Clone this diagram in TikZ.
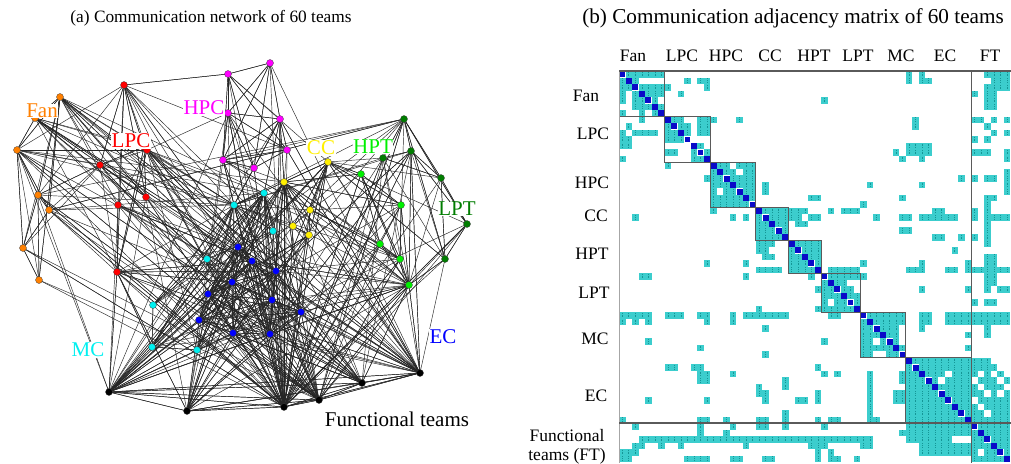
\documentclass[tikz,border=0pt]{standalone}
\usepackage{fontspec}
\setmainfont{Liberation Serif}
\definecolor{fanc}{RGB}{255,128,0}
\definecolor{lpcc}{RGB}{255,0,0}
\definecolor{hpcc}{RGB}{255,0,255}
\definecolor{ccc}{RGB}{255,240,0}
\definecolor{hptc}{RGB}{0,240,0}
\definecolor{lptc}{RGB}{0,125,0}
\definecolor{mcc}{RGB}{0,240,240}
\definecolor{ecc}{RGB}{0,0,255}
\definecolor{ftc}{RGB}{0,0,0}
\definecolor{cellc}{RGB}{60,205,205}
\definecolor{celldark}{RGB}{20,150,150}
\definecolor{diagc}{RGB}{10,10,200}
\definecolor{gridline}{RGB}{90,90,90}
\begin{document}
\begin{tikzpicture}[x=1pt,y=-1pt,
  team/.style={circle,inner sep=0pt,minimum size=7pt,draw=black!75,line width=0.3pt},
  link/.style={line width=0.45pt,black!85},
  grouplabel/.style={font=\fontsize{21}{24}\selectfont,fill=white,inner sep=0.5pt},
  caption/.style={font=\fontsize{17.3}{20}\selectfont,inner sep=0pt},
  axislabel/.style={font=\fontsize{17.5}{20}\selectfont,inner sep=0pt},
  cell/.style={fill=cellc},
  celltex/.style={celldark,line width=0.6pt,dash pattern=on 1pt off 0.7pt},
  blockbox/.style={draw=gridline,line width=0.9pt}]
\useasboundingbox (0,0) rectangle (1011,463);
\fill[white] (0,0) rectangle (1011,463);

% adjacency lists: row / columns with a link (diagonal drawn separately)
\def\mrows{
0/{1,2,3,4,5,6,44,46,56,57,58,59},
1/{0,2,10,12,13,44,46,47,57,58,59},
2/{0,1,3,4,5,6,7,13,56,57,58,59},
3/{0,2,4,5,6,9,54,56,57},
4/{0,2,3,5,31,56,57},
5/{2,3,4,6,56,57},
6/{0,3,5},
7/{3,8,9,12,13,14,18,45,54,55,57,59},
8/{1,7,9,10,12,13,45,56},
9/{0,2,3,4,5,7,8,10,12,13,57,59},
10/{0,1,7,8,9,54,56},
11/{0,1,12,44,45,46,47},
12/{7,8,11,13,42,44,45,46,47,54,55,56,59},
13/{0,11,12,43,46,59},
14/{7,15,16,18,19,20},
15/{14,16,17,19,20,59},
16/{13,14,15,17,18,19,20,52,54,56,57,59},
17/{14,15,16,18,19,20,22,38,46,59},
18/{14,16,17,19,20,22,59},
19/{14,15,16,17,18,20,29,30,43,56,57},
20/{14,15,16,17,18,19,37,56},
21/{14,22,23,24,25,26,27,28,32,34,35,36,48,49,54,56},
22/{2,17,19,21,23,24,25,26,27,29,30,39,43,44,46,47,48,49,50,51,54,56,57,58,59},
23/{21,22,24,25,27,28,56},
24/{21,22,23,25,43,44,56},
25/{21,22,23,24,48,49,52,54,56},
26/{21,22,23,27,28,29,30,56},
27/{21,22,26,28,29,30,51},
28/{22,23,26,27,29,30,56,57},
29/{13,19,26,27,28,30,37,46,53,56,57},
30/{21,22,23,24,26,27,28,29,32,33,34,35,36,44,45,46,50,51,53,54,55,56,57,58,59},
31/{3,4,19,29,32,33,34,35,36,37,56,57},
32/{31,33,34,56,57},
33/{30,31,32,34,35,46,53,56,58,59},
34/{31,32,33,35,36},
35/{31,33,34,36,54,56,57},
36/{21,30,31,32,33,34,35},
37/{0,1,2,3,4,7,8,9,12,13,17,19,20,21,22,23,24,25,32,33,38,39,40,41,42,43,46,47,50,51,52,53,54,55,56,57,58,59},
38/{0,2,4,13,17,37,39,40,41,42,43,46,47,50,51,52,53,54,55,56,57,58,59},
39/{22,37,38,40,41,42,46,56},
40/{37,38,39,41,42,53,56},
41/{4,31,37,38,40,42},
42/{12,37,38,39,40,41,43,53},
43/{22,37,38,41,42},
44/{45,46,47,48,49,50,51,52,53,54,55,56},
45/{7,8,11,12,30,44,46,47,48,49,50,51,52,53,54,55,56,57},
46/{12,13,17,31,33,38,43,44,45,47,48,49,51,52,53,54,56,58},
47/{12,13,25,38,43,44,45,46,48,50,51,52,53,55,56,57,59},
48/{21,25,38,44,45,46,47,49,50,51,52,53,54,56,57,58},
49/{21,22,30,38,42,43,44,45,46,47,48,50,51,52,53,54,55,57,59},
50/{4,13,22,27,28,30,38,42,43,44,45,46,47,48,49,51,52,53,55,56,57,58,59},
51/{38,44,45,46,47,48,49,50,52,53,54,56,57,58,59},
52/{25,38,44,45,46,47,48,49,50,51,53,54,55,57,58,59},
53/{0,12,13,16,21,22,25,30,32,33,38,39,44,45,46,47,48,49,50,51,52,54,55,56,57,58,59},
54/{2,12,17,21,22,25,31,44,45,46,47,48,49,50,51,52,53,55,56,57,58,59},
55/{12,16,43,44,45,46,47,48,49,50,51,52,53,54,56,57,58,59},
56/{3,4,5,6,7,8,9,10,11,12,13,14,15,16,17,18,19,20,21,22,23,24,25,26,27,28,29,30,31,32,33,34,35,36,37,38,44,45,46,47,48,49,50,54,55,57,58,59},
57/{2,3,6,9,19,29,30,31,37,38,46,47,48,49,50,51,52,53,54,55,56,58,59},
58/{0,1,2,30,32,46,47,48,49,50,51,52,53,54,56,57,59},
59/{0,1,10,11,12,13,17,18,22,23,30,32,33,36,54,55,56,57,58}}

% ---------- (a) network ----------
\node[caption] (capa) at (211,18) {(a) Communication network of 60 teams};

\foreach \i/\x/\y/\c in {
 0/60/97/fanc, 1/35/118/fanc, 2/17/150/fanc, 3/38/195/fanc, 4/49/210/fanc, 5/23/248/fanc, 6/39/280/fanc,
 7/124/85/lpcc, 8/144/147/lpcc, 9/100/165/lpcc, 10/146/197/lpcc, 11/118/205/lpcc, 12/117/272/lpcc, 13/147/150/lpcc,
 14/228/74/hpcc, 15/270/63/hpcc, 16/228/113/hpcc, 17/280/119/hpcc, 18/287/150/hpcc, 19/223/160/hpcc, 20/254/168/hpcc,
 21/328/162/ccc, 22/284/182/ccc, 23/310/210/ccc, 24/293/226/ccc, 25/309/235/ccc,
 26/361/174/hptc, 27/401/205/hptc, 28/380/244/hptc, 29/400/259/hptc, 30/409/285/hptc,
 31/404/119/lptc, 32/383/158/lptc, 33/411/151/lptc, 34/441/178/lptc, 35/467/224/lptc, 36/445/259/lptc,
 37/234/205/mcc, 38/264/193/mcc, 39/273/231/mcc, 40/207/259/mcc, 41/153/305/mcc, 42/152/347/mcc, 43/197/350/mcc,
 44/238/247/ecc, 45/252/261/ecc, 46/276/271/ecc, 47/232/282/ecc, 48/208/294/ecc, 49/272/300/ecc, 50/301/312/ecc, 51/199/320/ecc, 52/233/333/ecc, 53/270/334/ecc,
 54/109/392/ftc, 55/187/411/ftc, 56/284/407/ftc, 57/319/400/ftc, 58/362/383/ftc, 59/420/373/ftc}
  \coordinate (n\i) at (\x,\y);

\foreach \r/\cols in \mrows {
  \foreach \c in \cols { \draw[link] (n\r) -- (n\c); }
}

\foreach \i/\c in {0/fanc,1/fanc,2/fanc,3/fanc,4/fanc,5/fanc,6/fanc,
 7/lpcc,8/lpcc,9/lpcc,10/lpcc,11/lpcc,12/lpcc,13/lpcc,
 14/hpcc,15/hpcc,16/hpcc,17/hpcc,18/hpcc,19/hpcc,20/hpcc,
 21/ccc,22/ccc,23/ccc,24/ccc,25/ccc,
 26/hptc,27/hptc,28/hptc,29/hptc,30/hptc,
 31/lptc,32/lptc,33/lptc,34/lptc,35/lptc,36/lptc,
 37/mcc,38/mcc,39/mcc,40/mcc,41/mcc,42/mcc,43/mcc,
 44/ecc,45/ecc,46/ecc,47/ecc,48/ecc,49/ecc,50/ecc,51/ecc,52/ecc,53/ecc,
 54/ftc,55/ftc,56/ftc,57/ftc,58/ftc,59/ftc}
  \node[team,fill=\c] (t\i) at (n\i) {};

\node[grouplabel,text=fanc] (lfan) at (42,111) {Fan};
\node[grouplabel,text=lpcc] (llpc) at (131,141) {LPC};
\node[grouplabel,text=hpcc] (lhpc) at (204,108) {HPC};
\node[grouplabel,text=ccc] (lcc) at (321,148) {CC};
\node[grouplabel,text=hptc] (lhpt) at (373,147) {HPT};
\node[grouplabel,text=lptc] (llpt) at (457,209) {LPT};
\node[grouplabel,text=mcc] (lmc) at (88,350) {MC};
\node[grouplabel,text=ecc] (lec) at (443,337) {EC};
\node[grouplabel,fill=none] (lft) at (397,419) {Functional teams};

% ---------- (b) adjacency matrix ----------
\def\s{6.52}
\node[caption,font=\fontsize{21.2}{24}\selectfont] (capb) at (793,18) {(b) Communication adjacency matrix of 60 teams};

\begin{scope}
\clip (619,71) rectangle (1011,463);
\foreach \r/\cols in \mrows {
  \foreach \c in \cols {
    \fill[cell] ({619+\c*\s},{71+\r*\s}) rectangle ++(\s,\s);
    \draw[celltex] ({619+(\c+0.5)*\s},{71+\r*\s+0.8}) -- ++(0,4.9);
  }
}
\foreach \i in {0,...,59}
  \fill[diagc] ({619+\i*\s+0.3},{71+\i*\s+0.3}) rectangle ++({\s-0.6},{\s-0.6});
\foreach \a/\b in {0/7,7/14,14/21,21/26,26/31,31/37,37/44,44/54}
  \draw[blockbox] ({619+\a*\s},{71+\a*\s}) rectangle ({619+\b*\s},{71+\b*\s});
\end{scope}
\draw[black!35,line width=0.8pt] (619,71) -- (619,463);
\draw[gridline,line width=1.3pt] (619,71) -- (1011,71);
\draw[gridline,line width=1pt] ({619+54*\s},71) -- ({619+54*\s},463);
\draw[gridline,line width=1.3pt] (619,{71+54*\s}) -- (1011,{71+54*\s});

\foreach \t/\x in {Fan/633,LPC/682,HPC/726,CC/770,HPT/814,LPT/858,MC/901,EC/945,FT/990}
  \node[axislabel] (h\t) at (\x,56) {\t};
\foreach \t/\x/\y in {Fan/586/96,LPC/593/134,HPC/592/183,CC/596/216,HPT/592/254,LPT/594/293,MC/595/339,EC/596/396}
  \node[axislabel] (r\t) at (\x,\y) {\t};
\node[axislabel] (rft1) at (567,436) {Functional};
\node[axislabel] (rft2) at (567,456) {teams (FT)};
\end{tikzpicture}
\end{document}
